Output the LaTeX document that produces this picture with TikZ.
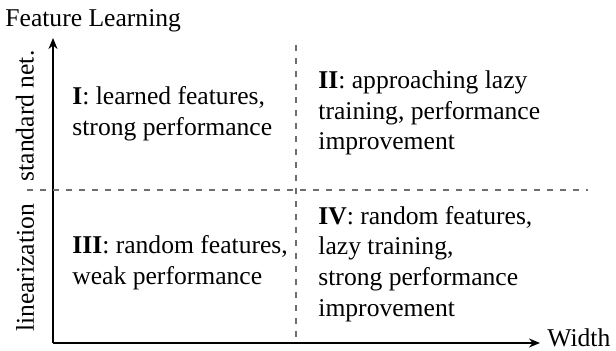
\documentclass[tikz,border=0pt]{standalone}
\usepackage{fontspec}
\setmainfont{Liberation Serif}
\usepackage{tikz}
\usetikzlibrary{arrows.meta, positioning, calc}
\definecolor{dividergray}{RGB}{110, 110, 110}

\begin{document}
\begin{tikzpicture}[x=0.5pt, y=-0.5pt,
    axis/.style={line width=1pt, -{Stealth[length=5.5pt, width=4.5pt]}},
    divider/.style={dividergray, line width=0.6pt, dash pattern=on 3pt off 3.5pt},
    quadtext/.style={anchor=west, align=left, inner sep=0pt},
    sidelabel/.style={rotate=90, inner sep=0pt},
    every node/.style={font=\fontsize{12.8}{15.3}\selectfont}]
    \useasboundingbox (0,0) rectangle (616,351);

    % Axes
    \coordinate (origin) at (53,343);
    \coordinate (xtip) at (540,343);
    \coordinate (ytip) at (53,38);
    \draw[axis] (origin) -- (xtip);
    \draw[axis] (origin) -- (ytip);
    \node[anchor=west, inner sep=0pt] (widthlabel) at (547,338) {Width};
    \node[anchor=base west, inner sep=0pt] (featlabel) at (5,27) {Feature Learning};

    % Quadrant dividers
    \coordinate (hleft) at (27,190);
    \coordinate (hright) at (588,190);
    \coordinate (vtop) at (296,45);
    \coordinate (vbottom) at (296,343);
    \draw[divider] (hleft) -- (hright);
    \draw[divider] (vtop) -- (vbottom);

    % Row labels
    \node[sidelabel] (stdnet) at (25,116) {standard net.};
    \node[sidelabel] (linnet) at (25,268) {linearization};

    % Quadrants
    \node[quadtext] (quadI) at (72,114)
        {\textbf{I}: learned features,\\ strong performance};
    \node[quadtext] (quadII) at (318,113)
        {\textbf{II}: approaching lazy\\ training, performance\\ improvement};
    \node[quadtext] (quadIII) at (72,263)
        {\textbf{III}: random features,\\ weak performance};
    \node[quadtext] (quadIV) at (318,264)
        {\textbf{IV}: random features,\\ lazy training,\\ strong performance\\ improvement};

\end{tikzpicture}
\end{document}
